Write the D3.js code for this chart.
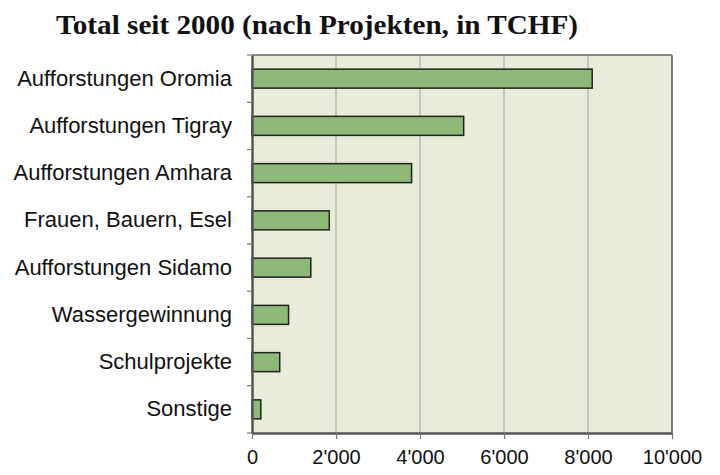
<!DOCTYPE html>
<html>
<head>
<meta charset="utf-8">
<script src="https://cdn.jsdelivr.net/npm/d3@7"></script>
<style>
  body { margin: 0; background: #fff; }
  svg { display: block; }
</style>
</head>
<body>
<div id="chart"></div>
<script>
// data (TCHF)
const projects = ["Aufforstungen Oromia", "Aufforstungen Tigray", "Aufforstungen Amhara",
  "Frauen, Bauern, Esel", "Aufforstungen Sidamo", "Wassergewinnung", "Schulprojekte", "Sonstige"];
const totals = [8100, 5040, 3800, 1840, 1400, 870, 660, 210];
const xTicks = [0, 2000, 4000, 6000, 8000, 10000];
const title = "Total seit 2000 (nach Projekten, in TCHF)";

const width = 720, height = 475;
const margin = { top: 55, right: 48, bottom: 42, left: 252 };

const svg = d3.select("#chart").append("svg")
  .attr("width", width)
  .attr("height", height);

const x = d3.scaleLinear().domain([0, 10000]).range([margin.left, width - margin.right]);
const yBand = d3.scaleBand().domain(projects).range([margin.top, height - margin.bottom]);

// title
svg.append("text")
  .attr("x", 56).attr("y", 34)
  .attr("font-family", "Liberation Serif, serif")
  .attr("font-weight", "bold")
  .attr("font-size", 28)
  .attr("textLength", 522)
  .attr("lengthAdjust", "spacingAndGlyphs")
  .attr("fill", "#111")
  .text(title);

// plot background
svg.append("rect")
  .attr("x", x(0)).attr("y", margin.top)
  .attr("width", x(10000) - x(0))
  .attr("height", height - margin.bottom - margin.top)
  .attr("fill", "#e8ecd8");

// vertical gridlines
svg.append("g").selectAll("line")
  .data(xTicks.slice(1))
  .join("line")
  .attr("x1", d => x(d)).attr("x2", d => x(d))
  .attr("y1", margin.top).attr("y2", height - margin.bottom)
  .attr("stroke", "#b9bab4")
  .attr("stroke-width", 1.5);

// bars
svg.append("g").selectAll("rect")
  .data(projects)
  .join("rect")
  .attr("x", x(0))
  .attr("y", (d) => yBand(d) + yBand.bandwidth() / 2 - 9.5)
  .attr("width", (d, i) => x(totals[i]) - x(0))
  .attr("height", 19)
  .attr("fill", "#8db878")
  .attr("stroke", "#222")
  .attr("stroke-width", 1.5);

// top and right frame lines
svg.append("line")
  .attr("x1", x(0)).attr("x2", x(10000))
  .attr("y1", margin.top).attr("y2", margin.top)
  .attr("stroke", "#666").attr("stroke-width", 1.5);
svg.append("line")
  .attr("x1", x(10000)).attr("x2", x(10000))
  .attr("y1", margin.top).attr("y2", height - margin.bottom)
  .attr("stroke", "#666").attr("stroke-width", 1.5);

// x axis
const fmt = d => d3.format(",")(d).replace(/,/g, "'");
const xAxis = svg.append("g")
  .attr("transform", `translate(0,${height - margin.bottom})`)
  .call(d3.axisBottom(x).tickValues(xTicks).tickFormat(fmt).tickSize(6).tickSizeOuter(0));
xAxis.select(".domain").attr("stroke", "#555").attr("stroke-width", 2.5);
xAxis.selectAll(".tick line").attr("stroke", "#777").attr("stroke-width", 1.2);
xAxis.selectAll(".tick text")
  .attr("font-family", "Liberation Sans, Arial, sans-serif")
  .attr("font-size", 20)
  .attr("fill", "#111")
  .attr("dy", "1.1em");

// y axis
const yAxis = svg.append("g")
  .attr("transform", `translate(${x(0)},0)`)
  .call(d3.axisLeft(yBand).tickSize(0).tickPadding(20).tickSizeOuter(0));
yAxis.select(".domain").attr("stroke", "#555").attr("stroke-width", 2.5);
yAxis.selectAll(".tick text")
  .attr("font-family", "Liberation Sans, Arial, sans-serif")
  .attr("font-size", 22)
  .attr("fill", "#111");

// y tick marks between categories
svg.append("g").selectAll("line")
  .data(projects)
  .join("line")
  .attr("x1", x(0) - 5).attr("x2", x(0))
  .attr("y1", d => yBand(d) + yBand.bandwidth())
  .attr("y2", d => yBand(d) + yBand.bandwidth())
  .attr("stroke", "#777").attr("stroke-width", 1.2);
svg.append("line")
  .attr("x1", x(0) - 5).attr("x2", x(0))
  .attr("y1", margin.top).attr("y2", margin.top)
  .attr("stroke", "#777").attr("stroke-width", 1.2);
</script>
</body>
</html>
